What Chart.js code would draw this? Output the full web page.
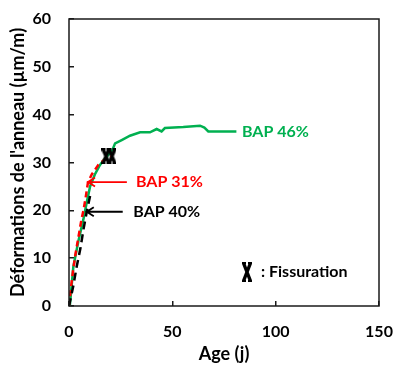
<!DOCTYPE html>
<html>
<head>
<meta charset="utf-8">
<script src="https://cdn.jsdelivr.net/npm/chart.js@4"></script>
<style>
  html, body { margin: 0; padding: 0; background: #fff; }
  #wrap { width: 396px; height: 365px; }
</style>
</head>
<body>
<div id="wrap"><canvas id="c" width="396" height="365"></canvas></div>
<script>
// Ring strain (µm/m) versus age (days) for three concrete mixes
const age46 = [0.4, 2.1, 4.5, 6.9, 8.5, 10.2, 12.5, 15, 17, 19, 21, 22.3, 25.5, 29.5, 34.4, 39.2, 42.4, 44.8, 46.4, 55.3, 63.4, 65.5, 67.4, 81];
const strain46 = [0, 8.2, 13.5, 18, 21.5, 25, 27.5, 29.5, 30.6, 31.6, 32.6, 34, 34.7, 35.6, 36.3, 36.3, 37, 36.5, 37.2, 37.4, 37.7, 37.3, 36.5, 36.5];

const age31 = [0, 1, 2, 3, 4, 5, 6, 7, 8, 9.2, 11, 14.2, 17, 20.5];
const strain31 = [0, 4, 7.5, 10.5, 13, 15.5, 18, 20, 22.5, 25.9, 27.5, 29.5, 30.5, 31.3];

const age40 = [0, 2, 3.7, 5.5, 7, 8.6, 10.2];
const strain40 = [0, 4, 8.2, 12, 16, 19.7, 23];

// Cracking events
const crackAge = [17.9, 20.8];
const crackStrain = [31.3, 31.3];

const xTicks = [0, 50, 100, 150];
const yTicks = [0, 10, 20, 30, 40, 50, 60];

const seriesLabels = ['BAP 46%', 'BAP 31%', 'BAP 40%'];
const crackLabel = ': Fissuration';

const GREEN = '#00B050', RED = '#FF0000', BLACK = '#000000';
const FONT = 'Lato, "Open Sans", sans-serif';

function pts(xs, ys) { return xs.map((x, i) => ({ x, y: ys[i] })); }

// Narrow bold cross used as the cracking marker
function crossImage(w, h) {
  const c = document.createElement('canvas');
  c.width = w; c.height = h;
  const g = c.getContext('2d');
  g.strokeStyle = '#000';
  g.lineWidth = 3.4;
  g.lineCap = 'butt';
  g.beginPath();
  g.moveTo(1.5, 1); g.lineTo(w - 1.5, h - 1);
  g.moveTo(w - 1.5, 1); g.lineTo(1.5, h - 1);
  g.stroke();
  g.lineWidth = 2;
  g.beginPath();
  g.moveTo(0, 1); g.lineTo(4, 1);
  g.moveTo(w - 4, 1); g.lineTo(w, 1);
  g.moveTo(0, h - 1); g.lineTo(4, h - 1);
  g.moveTo(w - 4, h - 1); g.lineTo(w, h - 1);
  g.stroke();
  return c;
}
const crossMark = crossImage(9, 16);
const crossKey = crossImage(10, 20);

// Labels with arrows, positioned in data units
const notes = [
  { text: seriesLabels[0], color: GREEN, x: 83.7, y: 36.4 },
  { text: seriesLabels[1], color: RED, x: 32.4, y: 25.9, arrowFrom: 28, arrowTo: 9.2 },
  { text: seriesLabels[2], color: BLACK, x: 31.1, y: 19.7, arrowFrom: 26, arrowTo: 8.6 }
];
const keyPos = { x: 86.1, y: 7.1, textX: 92.9 };

const annotate = {
  id: 'annotate',
  afterDatasetsDraw(chart) {
    const { ctx, scales: { x, y }, chartArea: a } = chart;
    ctx.save();
    // plot frame
    ctx.strokeStyle = '#1a1a1a';
    ctx.lineWidth = 1.5;
    ctx.strokeRect(a.left, a.top, a.right - a.left, a.bottom - a.top);

    ctx.font = 'bold 16px ' + FONT;
    ctx.textBaseline = 'middle';
    ctx.textAlign = 'left';
    notes.forEach(n => {
      const py = y.getPixelForValue(n.y);
      if (n.arrowFrom !== undefined) {
        const x1 = x.getPixelForValue(n.arrowFrom);
        const x2 = x.getPixelForValue(n.arrowTo);
        ctx.strokeStyle = n.color;
        ctx.lineWidth = 1.8;
        ctx.beginPath();
        ctx.moveTo(x1, py); ctx.lineTo(x2, py);
        ctx.moveTo(x2 + 7, py - 4.5); ctx.lineTo(x2, py); ctx.lineTo(x2 + 7, py + 4.5);
        ctx.stroke();
      }
      ctx.fillStyle = n.color;
      ctx.fillText(n.text, x.getPixelForValue(n.x), py);
    });
    // cracking key
    const kx = x.getPixelForValue(keyPos.x), ky = y.getPixelForValue(keyPos.y);
    ctx.drawImage(crossKey, kx - crossKey.width / 2, ky - crossKey.height / 2);
    ctx.fillStyle = BLACK;
    ctx.fillText(crackLabel, x.getPixelForValue(keyPos.textX), ky);
    ctx.restore();
  }
};

function fixPad(s) { s.paddingLeft = 0; s.paddingRight = 0; s.paddingTop = 0; s.paddingBottom = 0; }

new Chart(document.getElementById('c'), {
  type: 'line',
  data: {
    datasets: [
      { label: seriesLabels[0], data: pts(age46, strain46), borderColor: GREEN, borderWidth: 2.5, pointRadius: 0, tension: 0, order: 4 },
      { label: seriesLabels[1], data: pts(age31, strain31), borderColor: RED, borderWidth: 2.5, borderDash: [6, 4], pointRadius: 0, tension: 0, order: 3 },
      { label: seriesLabels[2], data: pts(age40, strain40), borderColor: BLACK, borderWidth: 2.5, borderDash: [8, 5], pointRadius: 0, tension: 0, order: 2 },
      { label: 'Fissuration', data: pts(crackAge, crackStrain), showLine: false, pointStyle: crossMark, pointRadius: 8, order: 1 }
    ]
  },
  options: {
    responsive: false,
    animation: false,
    devicePixelRatio: 1,
    layout: { padding: { left: 0, right: 17, top: 19, bottom: 0 } },
    plugins: { legend: { display: false }, tooltip: { enabled: false } },
    scales: {
      x: {
        type: 'linear', min: 0, max: 150,
        afterBuildTicks: s => { s.ticks = xTicks.map(v => ({ value: v })); },
        afterFit: s => { s.height = 59; fixPad(s); },
        ticks: { color: '#000', padding: 21, font: { family: FONT, size: 16, weight: 'bold' } },
        grid: { drawOnChartArea: false, tickLength: -5, color: '#1a1a1a', lineWidth: 1.5 },
        border: { display: false },
        title: { display: true, text: 'Age (j)', color: '#000', padding: { top: 0, bottom: 0 }, font: { family: FONT, size: 18, weight: 'bold' } }
      },
      y: {
        min: 0, max: 60,
        afterBuildTicks: s => { s.ticks = yTicks.map(v => ({ value: v })); },
        afterFit: s => { s.width = 69; fixPad(s); },
        ticks: { color: '#000', padding: 23, font: { family: FONT, size: 16, weight: 'bold' } },
        grid: { drawOnChartArea: false, tickLength: -5, color: '#1a1a1a', lineWidth: 1.5 },
        border: { display: false },
        title: { display: true, text: "Déformations de l'anneau (µm/m)", color: '#000', padding: { top: 7, bottom: 0 }, font: { family: FONT, size: 18, weight: 'bold' } }
      }
    }
  },
  plugins: [annotate]
});
</script>
</body>
</html>
